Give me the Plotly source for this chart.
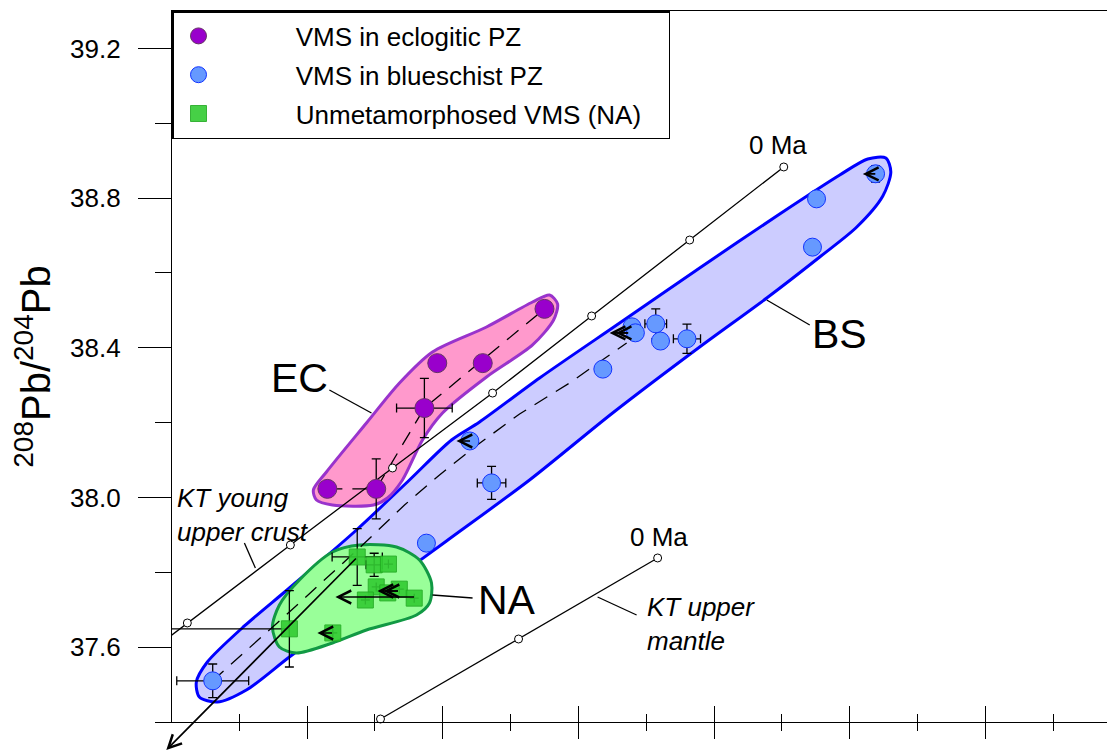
import plotly.graph_objects as go

FONT = "Liberation Sans, Arial, sans-serif"

# ---------------- data: x = 206Pb/204Pb, y = 208Pb/204Pb ----------------
# VMS in eclogitic PZ
ec_x = [18.630, 18.702, 18.773, 18.792, 18.859, 18.950]
ec_y = [38.023, 38.023, 38.239, 38.359, 38.359, 38.504]
ec_ex = [0, 0, 0.041, 0, 0, 0]
ec_ey = [0, 0.080, 0.079, 0, 0, 0]

# VMS in blueschist PZ
bs_x = [18.461, 18.776, 18.872, 18.840, 19.036, 19.079, 19.084, 19.114, 19.121, 19.160, 19.345, 19.351, 19.438]
bs_y = [37.510, 37.878, 38.039, 38.151, 38.343, 38.456, 38.440, 38.464, 38.418, 38.424, 38.669, 38.798, 38.865]
bs_ex = [0.053, 0, 0.021, 0, 0, 0, 0, 0.016, 0, 0.020, 0, 0, 0]
bs_ey = [0.045, 0, 0.044, 0, 0, 0, 0, 0.040, 0, 0.039, 0, 0, 0.022]

# Unmetamorphosed VMS (NA)
na_x = [18.674, 18.699, 18.720, 18.702, 18.686, 18.719, 18.736, 18.758, 18.574, 18.638]
na_y = [37.841, 37.820, 37.822, 37.761, 37.726, 37.745, 37.755, 37.731, 37.649, 37.638]
na_ex_plus = [0.037, 0.012, 0, 0, 0, 0, 0, 0, 0, 0]
na_ex_minus = [0.037, 0.012, 0, 0, 0, 0, 0, 0, 0.18, 0]
na_ey = [0.076, 0.031, 0, 0, 0, 0, 0, 0, 0.102, 0]

# Field envelopes
bs_env_x = [18.9428, 19.0608, 19.1787, 19.2967, 19.3852, 19.4265, 19.4531, 19.4605, 19.4487, 19.4103,
            19.3557, 19.2776, 19.1787, 19.0504, 18.9280, 18.8056, 18.7068, 18.5740, 18.5106, 18.4678,
            18.4413, 18.4369, 18.4531, 18.5077, 18.5740, 18.6729, 18.7510, 18.8130, 18.8543, 18.9428]
bs_env_y = [38.3193, 38.4663, 38.6133, 38.7576, 38.8618, 38.9046, 38.9072, 38.8698, 38.8057, 38.7228,
            38.6427, 38.5331, 38.4022, 38.2258, 38.0467, 37.8837, 37.7528, 37.5737, 37.4855, 37.4534,
            37.4668, 37.5069, 37.5603, 37.6566, 37.7581, 37.9131, 38.0467, 38.1536, 38.2017, 38.3193]

ec_env_x = [18.6876, 18.7363, 18.7849, 18.8646, 18.9324, 18.9575, 18.9693, 18.9634, 18.9324, 18.8646,
            18.7997, 18.7702, 18.7407, 18.7186, 18.6979, 18.6375, 18.6139, 18.6094, 18.6286, 18.6876]
ec_env_y = [38.1990, 38.3059, 38.3888, 38.4556, 38.5224, 38.5411, 38.5171, 38.4743, 38.4075, 38.3220,
            38.2258, 38.1536, 38.0467, 37.9986, 37.9799, 37.9799, 37.9933, 38.0200, 38.0681, 38.1990]

na_env_x = [18.6876, 18.6375, 18.5844, 18.5593, 18.5490, 18.5593, 18.5888, 18.6375, 18.6773, 18.7319,
            18.7658, 18.7835, 18.7805, 18.7614, 18.6876]
na_env_y = [37.6459, 37.6111, 37.5844, 37.6004, 37.6539, 37.7127, 37.7795, 37.8543, 37.8730, 37.8677,
            37.8329, 37.7715, 37.7180, 37.6859, 37.6459]

# Dashed trend lines
ec_trend_x = [18.630, 18.702, 18.773, 18.950]
ec_trend_y = [38.023, 38.023, 38.239, 38.504]
bs_trend_x = [18.4605, 18.574, 18.6773, 18.7437, 18.7953, 18.8469, 18.9133, 18.987, 19.0711]
bs_trend_y = [37.5096, 37.694, 37.865, 37.9799, 38.0601, 38.1349, 38.2231, 38.3059, 38.4128]

# Pb evolution curves (KT = Kramers & Tolstikhin)
kt_crust_x = [18.3676, 18.4236, 18.5755, 18.7260, 18.8735, 19.0195, 19.1640, 19.3027]
kt_crust_y = [37.587, 37.6646, 37.873, 38.0788, 38.279, 38.485, 38.688, 38.8832]
kt_crust_nodes_x = kt_crust_x[1:]
kt_crust_nodes_y = kt_crust_y[1:]
kt_mantle_x = [18.7083, 18.9118, 19.1168]
kt_mantle_y = [37.408, 37.6218, 37.8383]

# Leader lines for labels
leader_x = [18.633, 18.695, None, 19.2776, 19.341, None, 18.785, 18.844, None,
            18.5077, 18.5239, None, 19.0283, 19.0858]
leader_y = [38.2872, 38.2258, None, 38.5277, 38.461, None, 37.7394, 37.7314, None,
            37.8783, 37.8115, None, 37.734, 37.686]

# Arrows (head -> tail)
arrow_head_x = [19.4192, 19.0460, 19.0549, 18.8203, 18.6419, 18.7038, 18.7127, 18.6153, 18.3926]
arrow_head_y = [38.8645, 38.4396, 38.4396, 38.1509, 37.7340, 37.7501, 37.7501, 37.6378, 37.3252]
arrow_tail_x = [19.4398, 19.0755, 19.0755, 18.8425, 18.7599, 18.7363, 18.7363, 18.6390, 18.6743]
arrow_tail_y = [38.8645, 38.4396, 38.4396, 38.1509, 37.7340, 37.7501, 37.7501, 37.6378, 37.8409]

# Text labels
label_text = ["EC", "BS", "NA"]
label_x = [18.5888, 19.3853, 18.8941]
label_y = [38.3193, 38.4369, 37.726]

X_RANGE = [18.401, 19.7909]
Y_RANGE = [37.4, 39.3]

fig = go.Figure()


def region(xs, ys, fill, line):
    fig.add_trace(go.Scatter(x=xs, y=ys, mode="lines", fill="toself", fillcolor=fill,
                             line=dict(color=line, width=3, shape="spline", smoothing=0.8),
                             hoverinfo="skip", showlegend=False))


region(bs_env_x, bs_env_y, "#ccccff", "#0000ff")
region(ec_env_x, ec_env_y, "#ff99cc", "#9933cc")
region(na_env_x, na_env_y, "#99ff99", "#119944")

for tx, ty in [(ec_trend_x, ec_trend_y), (bs_trend_x, bs_trend_y)]:
    fig.add_trace(go.Scatter(x=tx, y=ty, mode="lines",
                             line=dict(color="black", width=1.3, dash="15px,10px"),
                             hoverinfo="skip", showlegend=False))

for lx, ly in [(kt_crust_x, kt_crust_y), (kt_mantle_x, kt_mantle_y)]:
    fig.add_trace(go.Scatter(x=lx, y=ly, mode="lines", line=dict(color="black", width=1.3),
                             hoverinfo="skip", showlegend=False))
for nx, ny in [(kt_crust_nodes_x, kt_crust_nodes_y), (kt_mantle_x, kt_mantle_y)]:
    fig.add_trace(go.Scatter(x=nx, y=ny, mode="markers", cliponaxis=False,
                             marker=dict(symbol="circle", size=8, color="white",
                                         line=dict(color="black", width=1)),
                             hoverinfo="skip", showlegend=False))

PAD = "\u00a0" * 10
err_style = dict(color="black", thickness=1.3, width=4.5)

fig.add_trace(go.Scatter(
    x=ec_x, y=ec_y, mode="markers", name=PAD + "VMS in eclogitic PZ", legendgroup="ec",
    marker=dict(symbol="circle", size=19, color="#9900cc", line=dict(color="#663366", width=1)),
    error_x=dict(type="data", array=ec_ex, **err_style),
    error_y=dict(type="data", array=ec_ey, **err_style)))
fig.add_trace(go.Scatter(
    x=bs_x, y=bs_y, mode="markers", name=PAD + "VMS in blueschist PZ", legendgroup="bs",
    marker=dict(symbol="circle", size=18, color="#6699ff", line=dict(color="#1133ff", width=1)),
    error_x=dict(type="data", array=bs_ex, **err_style),
    error_y=dict(type="data", array=bs_ey, **err_style)))
fig.add_trace(go.Scatter(
    x=na_x, y=na_y, mode="markers", name=PAD + "Unmetamorphosed VMS (NA)\u00a0\u00a0\u00a0",
    legendgroup="na",
    marker=dict(symbol="square", size=16, color="#33cc33", opacity=0.9,
                line=dict(color="#22aa22", width=1)),
    error_x=dict(type="data", symmetric=False, array=na_ex_plus, arrayminus=na_ex_minus, **err_style),
    error_y=dict(type="data", array=na_ey, **err_style)))

# leader lines on the overlay axis (also creates the crossing-tick overlay axis)
fig.add_trace(go.Scatter(x=leader_x, y=leader_y, mode="lines", xaxis="x2",
                         line=dict(color="black", width=1.3), hoverinfo="skip", showlegend=False))

annotations = []
for hx, hy, tx, ty in zip(arrow_head_x, arrow_head_y, arrow_tail_x, arrow_tail_y):
    annotations.append(dict(x=hx, y=hy, ax=tx, ay=ty, xref="x", yref="y", axref="x", ayref="y",
                            text="", showarrow=True, arrowhead=5, arrowsize=1.5, arrowwidth=1.7,
                            arrowcolor="black"))
for t, lx, ly in zip(label_text, label_x, label_y):
    annotations.append(dict(x=lx, y=ly, xref="x", yref="y", text=t, showarrow=False,
                            font=dict(family=FONT, size=41, color="black")))
annotations += [
    dict(x=18.406, y=37.953, xref="x", yref="y", text="<i>KT young<br>upper crust</i>",
         showarrow=False, xanchor="left", align="left", font=dict(family=FONT, size=26, color="black")),
    dict(x=19.0976, y=37.662, xref="x", yref="y", text="<i>KT upper<br>mantle</i>",
         showarrow=False, xanchor="left", align="left", font=dict(family=FONT, size=26, color="black")),
    dict(x=19.2938, y=38.942, xref="x", yref="y", text="0 Ma", showarrow=False,
         font=dict(family=FONT, size=26, color="black")),
    dict(x=19.1183, y=37.894, xref="x", yref="y", text="0 Ma", showarrow=False,
         font=dict(family=FONT, size=26, color="black")),
]

# The page body adds an 8 px offset, so the figure is 8 px smaller and margins shifted.
fig.update_layout(
    width=1107, height=744,
    margin=dict(l=164, r=0, t=3, b=30, autoexpand=False),
    paper_bgcolor="white", plot_bgcolor="white",
    font=dict(family=FONT, color="black"),
    showlegend=True,
    legend=dict(x=0, y=1, xanchor="left", yanchor="top", bgcolor="white",
                bordercolor="black", borderwidth=1.5, font=dict(family=FONT, size=26),
                itemwidth=40, traceorder="grouped", tracegroupgap=2, itemsizing="trace"),
    annotations=annotations,
    xaxis=dict(range=X_RANGE, tick0=18.4, dtick=0.2, ticks="outside", ticklen=16, tickwidth=1.3,
               tickcolor="black", showticklabels=False, showline=True, linecolor="black",
               linewidth=1.3, mirror=True, showgrid=False, zeroline=False, automargin=False,
               minor=dict(dtick=0.1, tick0=18.4, ticks="outside", ticklen=8, tickwidth=1.3,
                          tickcolor="black", showgrid=False)),
    xaxis2=dict(range=X_RANGE, overlaying="x", anchor="y", side="bottom", tick0=18.4, dtick=0.2,
                ticks="inside", ticklen=16, tickwidth=1.3, tickcolor="black", showticklabels=False,
                showline=False, showgrid=False, zeroline=False, automargin=False,
                minor=dict(dtick=0.1, tick0=18.4, ticks="inside", ticklen=8, tickwidth=1.3,
                           tickcolor="black", showgrid=False)),
    yaxis=dict(range=Y_RANGE, tick0=37.6, dtick=0.4, ticks="outside", ticklen=33, tickwidth=1.3,
               tickcolor="black", tickformat=".1f", tickfont=dict(family=FONT, size=26),
               ticklabelstandoff=12, automargin=False,
               showline=True, linecolor="black", linewidth=1.3, showgrid=False, zeroline=False,
               minor=dict(dtick=0.2, tick0=37.6, ticks="outside", ticklen=16, tickwidth=1.3,
                          tickcolor="black", showgrid=False),
               title=dict(text="<sup>208</sup>Pb/<sup>204</sup>Pb",
                          font=dict(family=FONT, size=40), standoff=12)),
)

fig.write_html("out.html")
